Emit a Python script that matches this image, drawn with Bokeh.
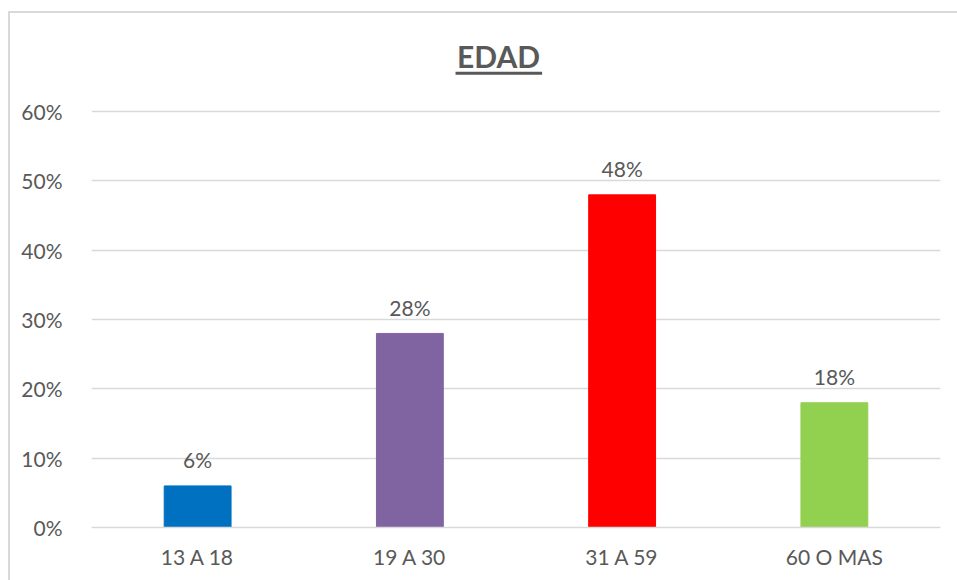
from bokeh.plotting import figure
from bokeh.models import (ColumnDataSource, FactorRange, Range1d, FixedTicker,
                          NumeralTickFormatter, Label, BoxAnnotation)
from bokeh.core.properties import value
from bokeh.embed import file_html
from bokeh.resources import INLINE

categories = ["13 A 18", "19 A 30", "31 A 59", "60 O MAS"]
values = [0.06, 0.28, 0.48, 0.18]
labels = ["6%", "28%", "48%", "18%"]
colors = ["#0070C0", "#8064A2", "#FF0000", "#92D050"]
y_ticks = [0, 0.1, 0.2, 0.3, 0.4, 0.5, 0.6]
title_text = "EDAD"

FONT = "Lato"
TXT = "#595959"
GRID = "#D9D9D9"

src = ColumnDataSource(dict(cat=categories, val=values, lab=labels, col=colors))

p = figure(width=957, height=580, x_range=FactorRange(*categories),
           y_range=Range1d(0, 0.746), output_backend="svg",
           toolbar_location=None, min_border_left=91, min_border_right=17,
           min_border_top=10, min_border_bottom=53)
p.outline_line_color = None
p.background_fill_color = None
p.border_fill_color = None
# chart border (left and top edges), drawn behind the transparent canvas
p.styles = {
    "background-color": "white",
    "background-image": ("linear-gradient(#D9D9D9, #D9D9D9), "
                         "linear-gradient(#D9D9D9, #D9D9D9)"),
    "background-position": "8px 11px, 8px 11px",
    "background-size": "2px 100%, 100% 2px",
    "background-repeat": "no-repeat",
}

p.vbar(x="cat", top="val", width=0.315, color="col", source=src)
p.text(x="cat", y="val", text="lab", source=src, text_align="center",
       text_baseline="alphabetic", y_offset=-26, text_color=TXT,
       text_font=value(FONT), text_font_size="21px")

# axes
p.yaxis.ticker = FixedTicker(ticks=y_ticks)
p.yaxis.formatter = NumeralTickFormatter(format="0%")
p.yaxis.axis_line_color = None
p.yaxis.major_tick_line_color = None
p.yaxis.minor_tick_line_color = None
p.yaxis.major_label_standoff = 23
for ax in (p.xaxis, p.yaxis):
    ax.major_label_text_font = FONT
    ax.major_label_text_font_size = "21px"
    ax.major_label_text_color = TXT
p.xaxis.axis_line_color = GRID
p.xaxis.axis_line_width = 1.5
p.xaxis.major_tick_line_color = None
p.xaxis.minor_tick_line_color = None
p.xaxis.major_label_standoff = 10

p.xgrid.grid_line_color = None
p.ygrid.grid_line_color = GRID
p.ygrid.grid_line_width = 1.5

# title with underline
p.add_layout(Label(x=1.918, y=0.680, text=title_text, text_align="center",
                   text_baseline="alphabetic", text_font=FONT,
                   text_font_size="30px", text_font_style="bold",
                   text_color=TXT))
p.add_layout(BoxAnnotation(left=1.715, right=2.123, bottom=0.6533, top=0.6576,
                           fill_color=TXT, fill_alpha=1, line_color=None,
                           editable=False))

open("out.html", "w").write(file_html(p, INLINE))
